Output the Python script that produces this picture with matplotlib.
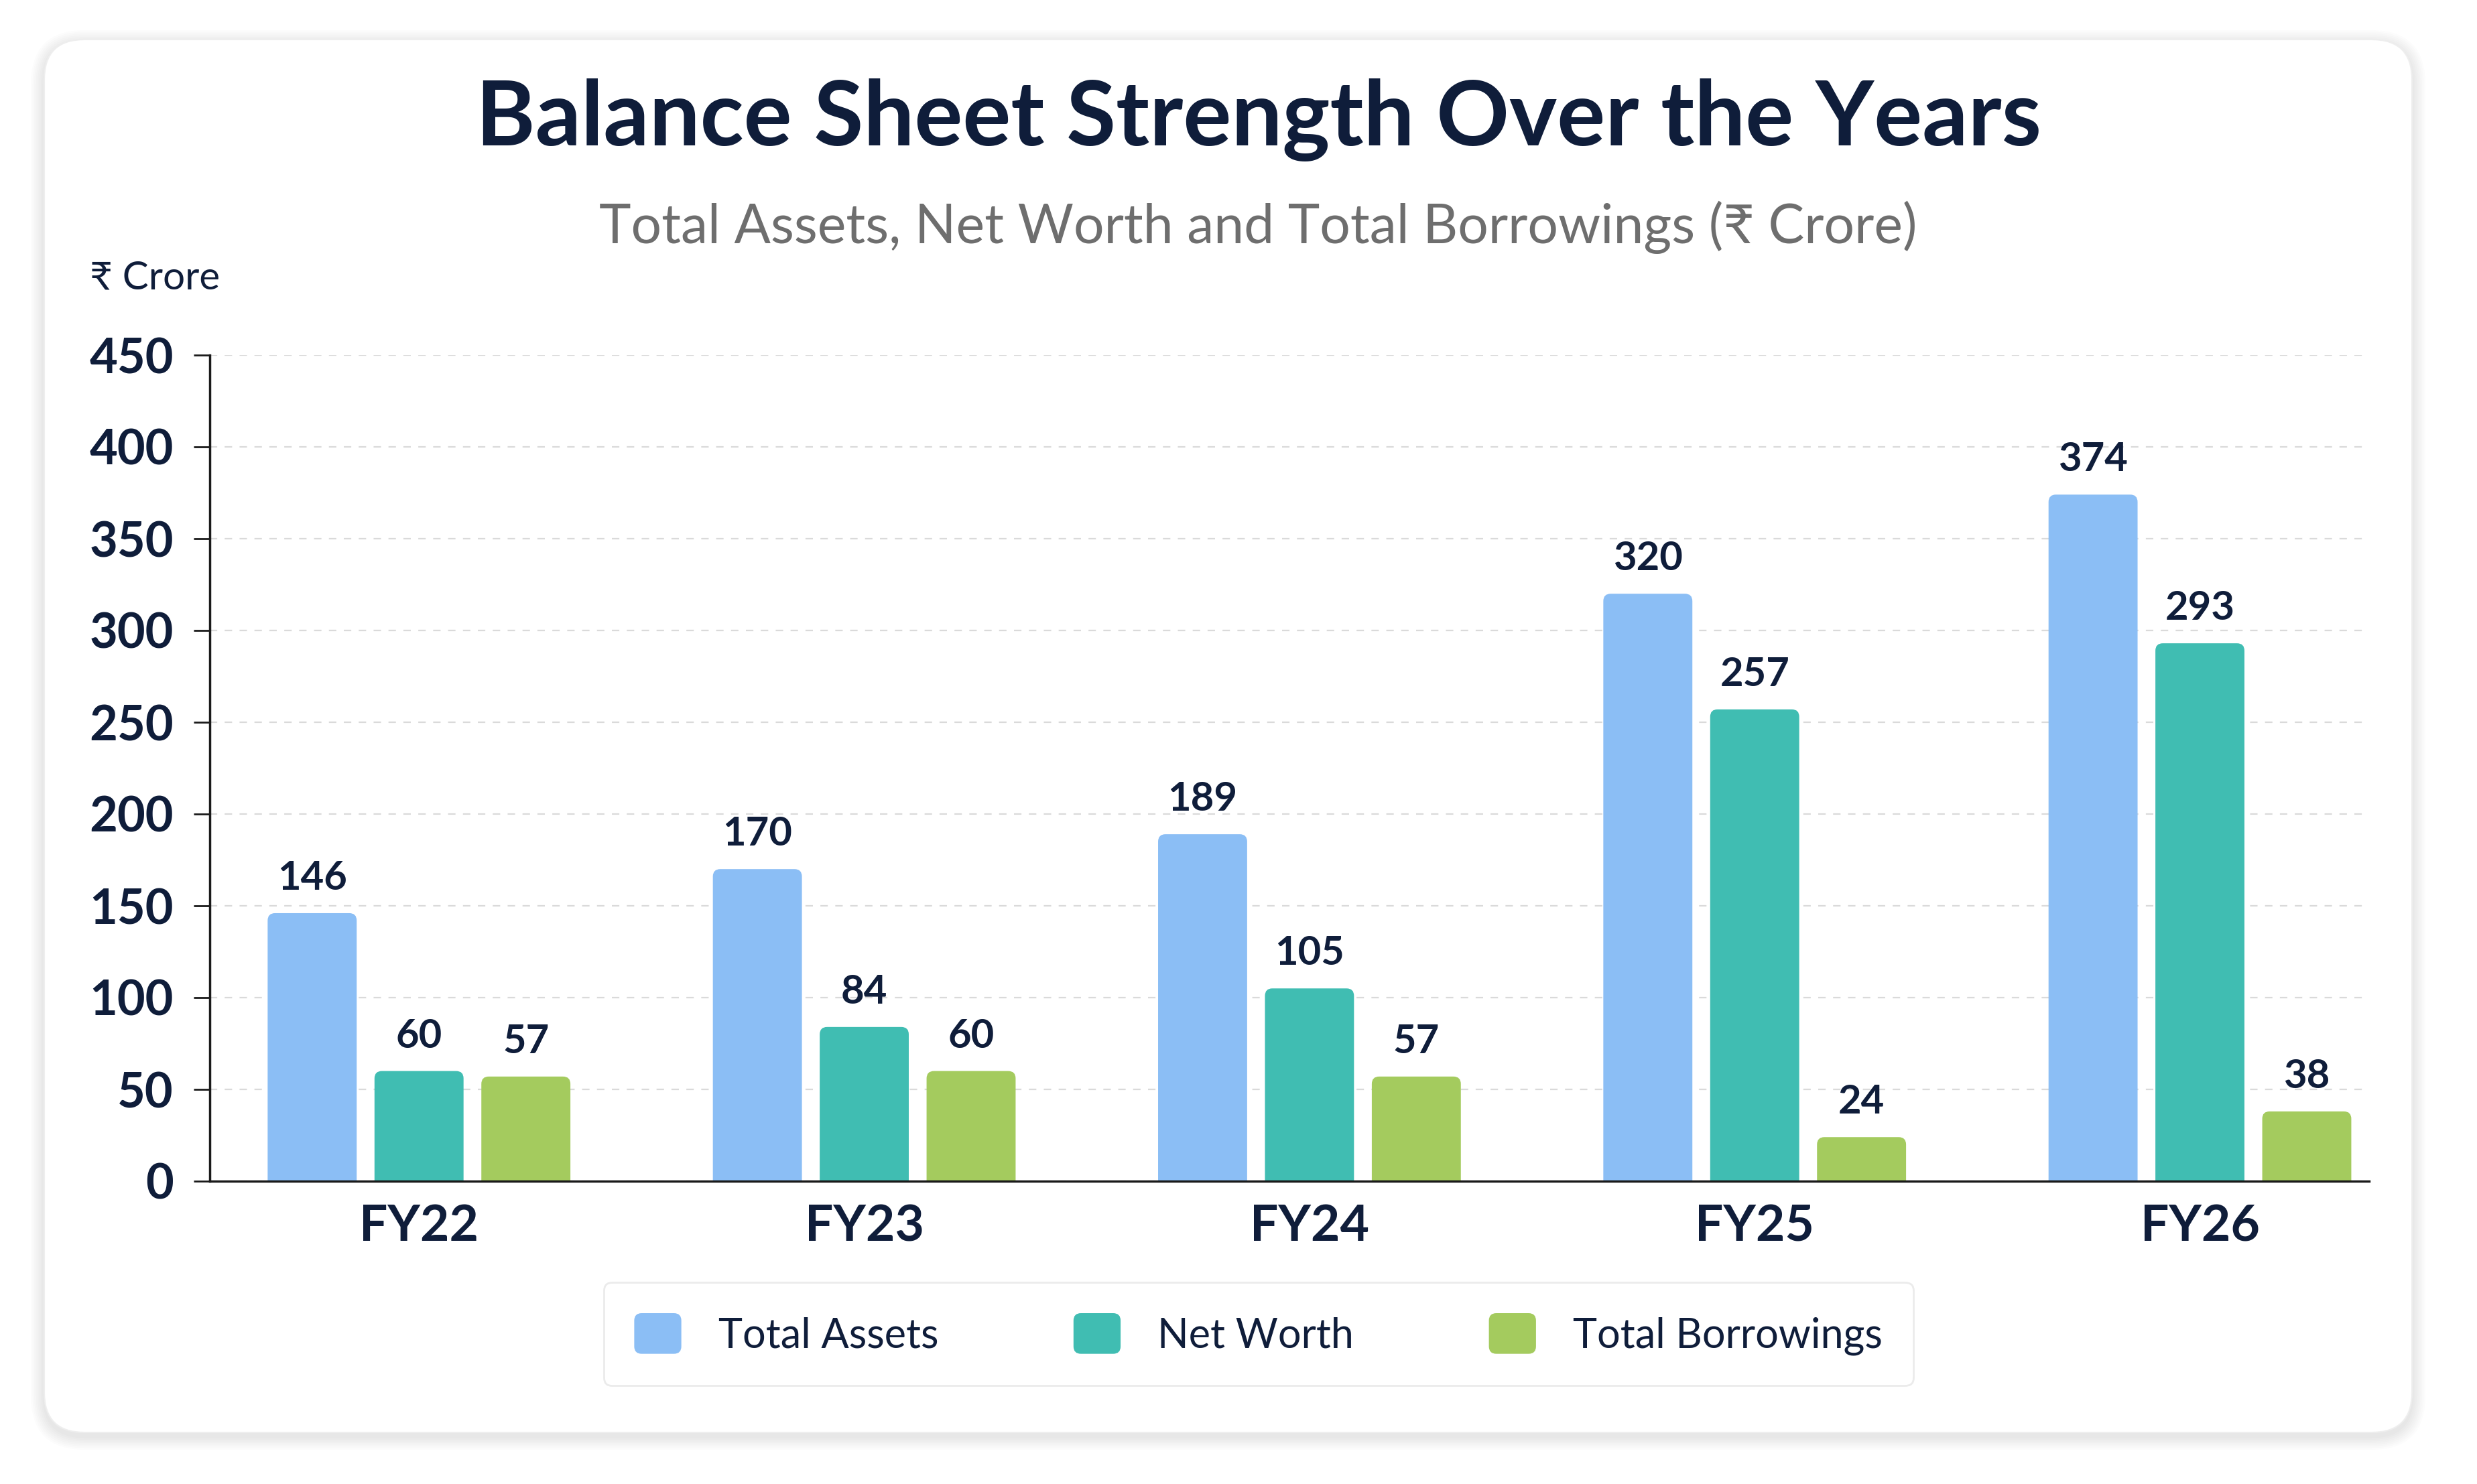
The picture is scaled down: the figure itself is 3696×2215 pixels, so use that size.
"""
Balance sheet strength over the years: grouped bars.
"""

import matplotlib
matplotlib.use("Agg")
import matplotlib.pyplot as plt
from matplotlib.patches import FancyBboxPatch
from matplotlib.legend_handler import HandlerPatch
import numpy as np

years = ["FY22", "FY23", "FY24", "FY25", "FY26"]
total_assets = [146, 170, 189, 320, 374]
net_worth = [60, 84, 105, 257, 293]
total_borrowings = [57, 60, 57, 24, 38]
series_names = ["Total Assets", "Net Worth", "Total Borrowings"]
y_ticks = [0, 50, 100, 150, 200, 250, 300, 350, 400, 450]

COLORS = ["#8BBEF5", "#40BDB2", "#A4CB5E"]
NAVY = "#0F1D3A"
FONT = ["Lato", "DejaVu Sans"]

plt.rcParams["font.family"] = FONT

W, H = 3696, 2215
fig = plt.figure(figsize=(W / 100, H / 100), dpi=100, facecolor="white")

# ── Card with soft shadow ─────────────────────────────────────────────
cx0, cx1 = 66 / W, 3599 / W
cy0, cy1 = 1 - 2138 / H, 1 - 59 / H
asp = W / H
for i in range(8, 0, -1):
    g = i * 2.5
    fig.patches.append(FancyBboxPatch(
        (cx0 - g / W, cy0 - g / H - 6 / H), cx1 - cx0 + 2 * g / W, cy1 - cy0 + 2 * g / H,
        boxstyle=f"round,pad=0,rounding_size={(60 + g) / W}", mutation_aspect=asp,
        transform=fig.transFigure, facecolor="#000000", edgecolor="none",
        alpha=0.012, zorder=-3))
fig.patches.append(FancyBboxPatch(
    (cx0, cy0), cx1 - cx0, cy1 - cy0,
    boxstyle=f"round,pad=0,rounding_size={60 / W}", mutation_aspect=asp,
    transform=fig.transFigure, facecolor="white", edgecolor="#EEEEEE",
    linewidth=1.5, zorder=-2))

# ── Titles ────────────────────────────────────────────────────────────
fig.text(0.508, 0.919, "Balance Sheet Strength Over the Years", ha="center", va="center",
         fontsize=97, fontweight="bold", color=NAVY)
fig.text(0.508, 0.847, "Total Assets, Net Worth and Total Borrowings (₹ Crore)",
         ha="center", va="center", fontsize=58, color="#6E6E6E")
fig.text(0.0363, 0.8126, "₹ Crore", ha="left", va="center", fontsize=42, color=NAVY)

# ── Axes ──────────────────────────────────────────────────────────────
ax = fig.add_axes([313 / W, 452 / H, (3535 - 313) / W, (1763 - 530) / H])
ax.set_facecolor("none")

x = np.arange(len(years))
width = 0.2
offset = 0.24
series = [total_assets, net_worth, total_borrowings]

x_per_px = (4.38 + 0.47) / (3535 - 313)
y_per_px = 450 / (1763 - 530)
r = 11 * x_per_px
aspect = y_per_px / x_per_px
for k, (vals, col) in enumerate(zip(series, COLORS)):
    xs = x + (k - 1) * offset
    bars = ax.bar(xs, vals, width, color=col, label=series_names[k], alpha=0)
    for bar in bars:
        bx, bw, bh = bar.get_x(), bar.get_width(), bar.get_height()
        ax.add_patch(FancyBboxPatch(
            (bx, -20), bw, bh + 20,
            boxstyle=f"round,pad=0,rounding_size={r}", mutation_aspect=aspect,
            facecolor=col, edgecolor="none", zorder=2, clip_on=True))
        ax.annotate(f"{bh:.0f}", (bx + bw / 2, bh), xytext=(0, 18),
                    textcoords="offset points", ha="center", va="bottom",
                    fontsize=43, fontweight="bold", color=NAVY)

ax.set_xlim(-0.47, 4.38)
ax.set_ylim(0, 450)
ax.set_yticks(y_ticks)
ax.set_xticks(x)
ax.set_xticklabels(years)

for s in ["top", "right"]:
    ax.spines[s].set_visible(False)
ax.spines["left"].set_linewidth(2.5)
ax.spines["bottom"].set_linewidth(2.5)
ax.spines["left"].set_color("#1A1A1A")
ax.spines["bottom"].set_color("#1A1A1A")

ax.tick_params(axis="y", length=17, width=2, color="#1A1A1A", pad=22,
               labelsize=52, labelcolor=NAVY)
ax.tick_params(axis="x", length=0, pad=24, labelsize=54, labelcolor=NAVY)
for lbl in ax.get_xticklabels() + ax.get_yticklabels():
    lbl.set_fontweight("bold")

ax.yaxis.grid(True, linestyle=(0, (5, 5)), color="#DADADA", linewidth=1.6)
ax.set_axisbelow(True)


# ── Legend ────────────────────────────────────────────────────────────
def rounded_handle(legend, orig_handle, xdescent, ydescent, width, height, fontsize):
    return FancyBboxPatch((-xdescent, -ydescent), width, height,
                          boxstyle=f"round,pad=0,rounding_size={fontsize * 0.18}")


handles = [plt.Rectangle((0, 0), 1, 1, facecolor=c, edgecolor="none") for c in COLORS]
leg = fig.legend(handles, series_names, loc="center", bbox_to_anchor=(0.508, 0.101),
                 ncol=3, fontsize=44, frameon=True, fancybox=True,
                 handlelength=1.15, handleheight=1.15, handletextpad=0.9,
                 columnspacing=3.3, borderpad=0.75, labelcolor=NAVY,
                 handler_map={plt.Rectangle: HandlerPatch(patch_func=rounded_handle)})
frame = leg.get_frame()
frame.set_edgecolor("#E6E6E6")
frame.set_linewidth(2)
frame.set_facecolor("white")

fig.savefig("out.png", dpi=100, facecolor=fig.get_facecolor())
plt.close()
